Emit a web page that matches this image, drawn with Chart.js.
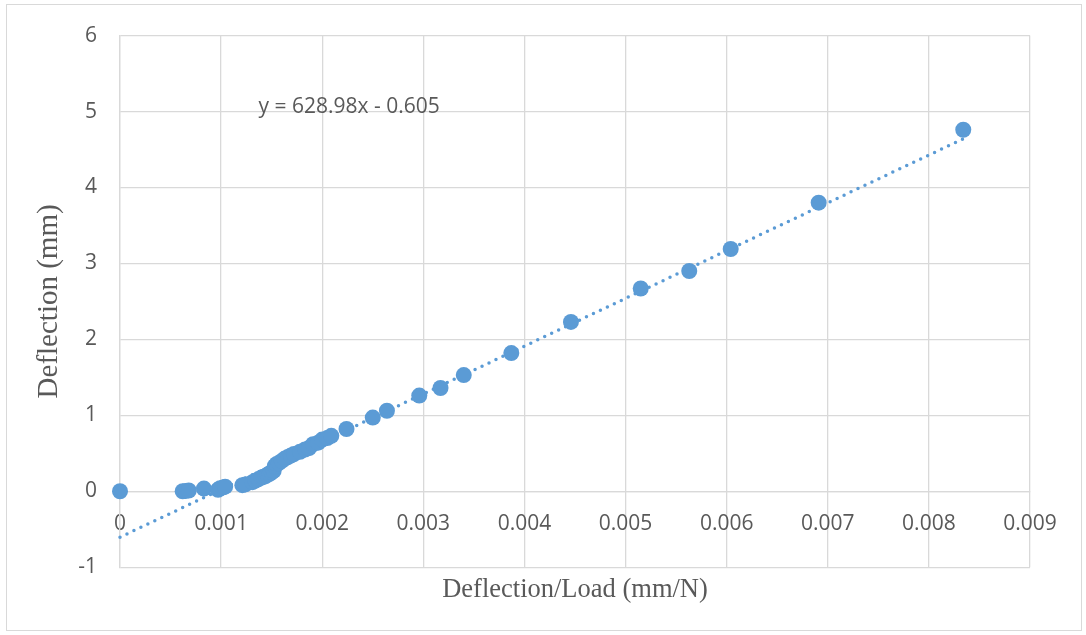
<!DOCTYPE html>
<html>
<head>
<meta charset="utf-8">
<script src="https://cdn.jsdelivr.net/npm/chart.js@4"></script>
<style>
  html, body { margin: 0; padding: 0; background: #ffffff; }
  #wrap { position: relative; width: 1086px; height: 635px; }
  #frame { position: absolute; left: 6px; top: 4px; width: 1076px; height: 627px; border: 1px solid #D9D9D9; box-sizing: border-box; }
  canvas { position: absolute; left: 0; top: 0; }
</style>
</head>
<body>
<div id="wrap">
  <div id="frame"></div>
  <canvas id="c" width="1086" height="635"></canvas>
</div>
<script>
// ---- data ----
const xValues = [0, 0.00062, 0.00065, 0.00068, 0.00083, 0.00097, 0.00099, 0.00102, 0.00104, 0.00121,
  0.00124, 0.00131, 0.00134, 0.00137, 0.0014, 0.00142, 0.00144, 0.00146, 0.00148, 0.0015,
  0.00152, 0.00153, 0.00155, 0.00157, 0.0016, 0.00163, 0.00166, 0.00169, 0.00172, 0.00178,
  0.00183, 0.00187, 0.00191, 0.00196, 0.002, 0.00205, 0.00209, 0.00224, 0.0025, 0.00264,
  0.00296, 0.00317, 0.0034, 0.00387, 0.00446, 0.00515, 0.00563, 0.00604, 0.00691, 0.00834];
const yValues = [0, 0, 0.005, 0.01, 0.035, 0.02, 0.04, 0.05, 0.06, 0.08,
  0.09, 0.12, 0.14, 0.16, 0.18, 0.19, 0.2, 0.22, 0.23, 0.25,
  0.27, 0.33, 0.36, 0.37, 0.4, 0.43, 0.45, 0.47, 0.49, 0.52,
  0.55, 0.57, 0.62, 0.64, 0.68, 0.7, 0.73, 0.82, 0.97, 1.06,
  1.26, 1.36, 1.53, 1.82, 2.23, 2.67, 2.9, 3.19, 3.8, 4.76];

// linear trendline as displayed: y = 628.98x - 0.605
const trendX = [0, 0.00834];
const trendY = [-0.605, 4.6406];
const trendLabel = 'y = 628.98x - 0.605';
const trendLabelPos = [0.00137, 4.98];

const xTitle = 'Deflection/Load (mm/N)';
const yTitle = 'Deflection (mm)';
const xMin = 0, xMax = 0.009, xStep = 0.001;
const yMin = -1, yMax = 6, yStep = 1;

// ---- chart ----
const blue = '#5B9BD5';
const gridColor = '#D9D9D9';
const textColor = '#595959';
const tickFont = { family: "'Open Sans', sans-serif", size: 21 };

const pointData = xValues.map((x, i) => ({ x: x, y: yValues[i] }));
const trendData = trendX.map((x, i) => ({ x: x, y: trendY[i] }));

const eqLabel = {
  id: 'eqLabel',
  afterDatasetsDraw(chart) {
    const ctx = chart.ctx;
    const xs = chart.scales.x, ys = chart.scales.y;
    ctx.save();
    ctx.font = "21px 'Open Sans', sans-serif";
    ctx.fillStyle = textColor;
    ctx.textAlign = 'left';
    ctx.textBaseline = 'alphabetic';
    ctx.fillText(trendLabel, xs.getPixelForValue(trendLabelPos[0]), ys.getPixelForValue(trendLabelPos[1]));
    ctx.restore();
  }
};

new Chart(document.getElementById('c'), {
  type: 'scatter',
  data: {
    datasets: [
      {
        label: 'data',
        data: pointData,
        backgroundColor: blue,
        borderColor: blue,
        borderWidth: 0,
        pointRadius: 8,
        pointHoverRadius: 8,
        clip: false
      },
      {
        label: 'trend',
        data: trendData,
        showLine: true,
        pointRadius: 0,
        borderColor: blue,
        borderWidth: 3.5,
        borderDash: [0, 7.7],
        borderCapStyle: 'round',
        fill: false,
        clip: false
      }
    ]
  },
  options: {
    responsive: false,
    animation: false,
    events: [],
    layout: { padding: { top: 33, right: 56, left: 0, bottom: 0 } },
    plugins: {
      legend: { display: false },
      tooltip: { enabled: false },
      title: {
        display: true,
        position: 'bottom',
        fullSize: false,
        text: xTitle,
        color: textColor,
        font: { family: "'Liberation Serif', 'Times New Roman', serif", size: 26.5, weight: 'normal' },
        padding: { top: 7, bottom: 29 }
      }
    },
    scales: {
      x: {
        type: 'linear',
        position: { y: 0 },
        min: xMin, max: xMax,
        afterFit(scale) { scale.height = 0; },
        grid: { color: gridColor, lineWidth: 1.3, drawTicks: false },
        border: { color: gridColor, width: 1.3 },
        ticks: {
          stepSize: xStep,
          padding: 20,
          color: textColor,
          font: tickFont,
          maxRotation: 0,
          autoSkip: false,
          callback: (v) => String(Number(v.toFixed(3)))
        }
      },
      y: {
        type: 'linear',
        position: 'left',
        min: yMin, max: yMax,
        afterFit(scale) { scale.width = 120; },
        grid: { color: gridColor, lineWidth: 1.3, drawTicks: false },
        border: { color: gridColor, width: 1.3 },
        ticks: {
          stepSize: yStep,
          padding: 23,
          color: textColor,
          font: tickFont
        },
        title: {
          display: true,
          text: yTitle,
          color: textColor,
          font: { family: "'Liberation Serif', 'Times New Roman', serif", size: 29, weight: 'normal' },
          padding: { top: 32, bottom: 0 }
        }
      }
    }
  },
  plugins: [eqLabel]
});
</script>
</body>
</html>
